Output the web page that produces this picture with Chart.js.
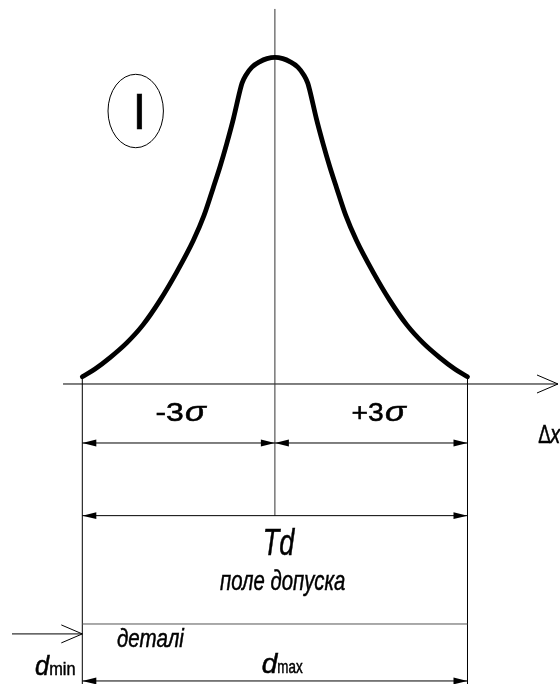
<!DOCTYPE html>
<html lang="uk">
<head>
  <meta charset="UTF-8" />
  <title>Поле допуску</title>
  <script src="https://cdn.jsdelivr.net/npm/chart.js"></script>
  <style>
    html, body { margin: 0; padding: 0; background: #fff; }
    canvas { display: block; }
  </style>
</head>
<body>
  <canvas id="tolChart" width="560" height="684"></canvas>

  <script>
    // curve of the distribution, x in sigma units, y relative to the peak
    const curveX = [-3.0, -2.802, -2.568, -2.308, -2.055, -1.79, -1.525, -1.271, -1.104, -0.96, -0.855, -0.751, -0.645, -0.544,
                    -0.512, -0.45, -0.357, -0.232, -0.123, 0,
                    0.123, 0.232, 0.357, 0.45, 0.512,
                    0.544, 0.645, 0.751, 0.855, 0.96, 1.104, 1.271, 1.525, 1.79, 2.055, 2.308, 2.568, 2.802, 3.0];
    const curveY = [0.022, 0.046, 0.081, 0.126, 0.181, 0.256, 0.344, 0.439, 0.516, 0.601, 0.665, 0.735, 0.813, 0.898,
                    0.921, 0.946, 0.970, 0.987, 0.996, 1.0,
                    0.996, 0.987, 0.970, 0.946, 0.921,
                    0.898, 0.813, 0.735, 0.665, 0.601, 0.516, 0.439, 0.344, 0.256, 0.181, 0.126, 0.081, 0.046, 0.022];

    // tolerance marks and labels
    const sigmaMarks = [-3, 0, 3];
    const sigmaLabels = ['-3', '+3'];
    const sigmaSymbol = 'σ';
    const axisLabel = ['Δ', 'x'];
    const zoneLabel = 'I';
    const fieldLabels = ['Td', 'поле допуска', 'деталі'];
    const limitLabels = ['d', 'min', 'max'];

    const FONT = '"Liberation Sans", Arial, sans-serif';

    // draw text so that its ink box starts at left and is w wide
    function fitText(ctx, str, left, base, size, w, italic) {
      ctx.save();
      ctx.font = (italic ? 'italic ' : '') + size + 'px ' + FONT;
      ctx.textAlign = 'left';
      ctx.textBaseline = 'alphabetic';
      const m = ctx.measureText(str);
      const ink = m.actualBoundingBoxLeft + m.actualBoundingBoxRight;
      ctx.translate(left, base);
      ctx.scale(w / ink, 1);
      ctx.fillStyle = '#000';
      ctx.strokeStyle = '#000';
      ctx.lineWidth = 0.5;
      ctx.fillText(str, m.actualBoundingBoxLeft, 0);
      ctx.strokeText(str, m.actualBoundingBoxLeft, 0);
      ctx.restore();
    }

    function line(ctx, x1, y1, x2, y2) {
      ctx.beginPath();
      ctx.moveTo(x1, y1);
      ctx.lineTo(x2, y2);
      ctx.stroke();
    }

    // filled arrow head with tip at (x, y), pointing dir (+1 right, -1 left)
    function solidHead(ctx, x, y, dir) {
      ctx.beginPath();
      ctx.moveTo(x, y);
      ctx.lineTo(x - dir * 14, y - 3.4);
      ctx.lineTo(x - dir * 14, y + 3.4);
      ctx.closePath();
      ctx.fill();
    }

    function openHead(ctx, x, y) {
      ctx.beginPath();
      ctx.moveTo(x - 21, y - 9);
      ctx.lineTo(x, y);
      ctx.lineTo(x - 21, y + 9);
      ctx.stroke();
    }

    const drawingPlugin = {
      id: 'drawing',
      beforeDatasetsDraw(chart) {
        const ctx = chart.ctx;
        const X = v => chart.scales.x.getPixelForValue(v);
        const Y = v => chart.scales.y.getPixelForValue(v);
        const [lo, mid, hi] = sigmaMarks;

        ctx.save();
        ctx.strokeStyle = '#000';
        ctx.fillStyle = '#000';
        ctx.lineWidth = 1;

        // abscissa with open arrow
        line(ctx, X(-3.30), Y(0), X(4.41), Y(0));
        openHead(ctx, X(4.41), Y(0));

        // centre line
        ctx.strokeStyle = '#333';
        line(ctx, X(mid), Y(1.148), X(mid), Y(-0.403));

        // extension lines
        ctx.strokeStyle = '#000';
        line(ctx, X(lo), Y(curveY[0]), X(lo), Y(-0.92));
        line(ctx, X(hi), Y(curveY[curveY.length - 1]), X(hi), Y(-0.92));

        // ±3σ dimensions
        const yS = Y(-0.1806);
        line(ctx, X(lo), yS, X(hi), yS);
        solidHead(ctx, X(lo), yS, -1);
        solidHead(ctx, X(mid), yS, 1);
        solidHead(ctx, X(mid), yS, -1);
        solidHead(ctx, X(hi), yS, 1);

        // Td dimension
        const yT = Y(-0.403);
        line(ctx, X(lo), yT, X(hi), yT);
        solidHead(ctx, X(lo), yT, -1);
        solidHead(ctx, X(hi), yT, 1);

        // divider line
        ctx.strokeStyle = '#555';
        line(ctx, X(lo), Y(-0.7346), X(hi), Y(-0.7346));

        // arrow pointing at dmin
        ctx.strokeStyle = '#000';
        const yA = Y(-0.765);
        line(ctx, X(-4.095), yA, X(lo), yA);
        openHead(ctx, X(lo), yA);

        // dmin .. dmax dimension
        const yB = Y(-0.909);
        line(ctx, X(lo), yB, X(hi), yB);
        solidHead(ctx, X(lo), yB, -1);
        solidHead(ctx, X(hi), yB, 1);

        // zone marker ellipse
        ctx.beginPath();
        ctx.ellipse(X(-2.168), Y(0.8356), 27.7, 36.7, 0, 0, Math.PI * 2);
        ctx.stroke();
        ctx.restore();
      },
      afterDraw(chart) {
        const ctx = chart.ctx;
        fitText(ctx, zoneLabel, 136.5, 129, 50, 6, false);

        fitText(ctx, sigmaLabels[0], 156.7, 421, 26, 26.6, false);
        fitText(ctx, sigmaSymbol, 185, 421, 27, 23, true);
        fitText(ctx, sigmaLabels[1], 352.7, 421, 26, 30.6, false);
        fitText(ctx, sigmaSymbol, 385, 421, 27, 23, true);

        fitText(ctx, axisLabel[0], 538.3, 443.3, 25, 12, false);
        fitText(ctx, axisLabel[1], 549.5, 443.3, 25, 12, true);

        fitText(ctx, fieldLabels[0], 265, 555, 36, 30, true);
        fitText(ctx, fieldLabels[1], 220, 590, 28, 125, true);
        fitText(ctx, fieldLabels[2], 117, 646.5, 25, 68, true);

        fitText(ctx, limitLabels[0], 35, 675, 27, 15, true);
        fitText(ctx, limitLabels[1], 50, 675, 19, 25, false);
        fitText(ctx, limitLabels[0], 261.7, 672.7, 27, 16.6, true);
        fitText(ctx, limitLabels[2], 278, 672.7, 19, 25, false);
      }
    };

    new Chart(document.getElementById('tolChart'), {
      type: 'scatter',
      data: {
        datasets: [{
          data: curveX.map((x, i) => ({ x: x, y: curveY[i] })),
          showLine: true,
          borderColor: '#000',
          borderWidth: 4.8,
          borderCapStyle: 'round',
          borderJoinStyle: 'round',
          cubicInterpolationMode: 'monotone',
          pointRadius: 0,
          fill: false
        }]
      },
      options: {
        responsive: false,
        animation: false,
        layout: { padding: 0 },
        plugins: { legend: { display: false }, tooltip: { enabled: false } },
        scales: {
          x: { type: 'linear', min: -4.282, max: 4.441, display: false },
          y: { type: 'linear', min: -0.9183, max: 1.1754, display: false }
        }
      },
      plugins: [drawingPlugin]
    });
  </script>
</body>
</html>
